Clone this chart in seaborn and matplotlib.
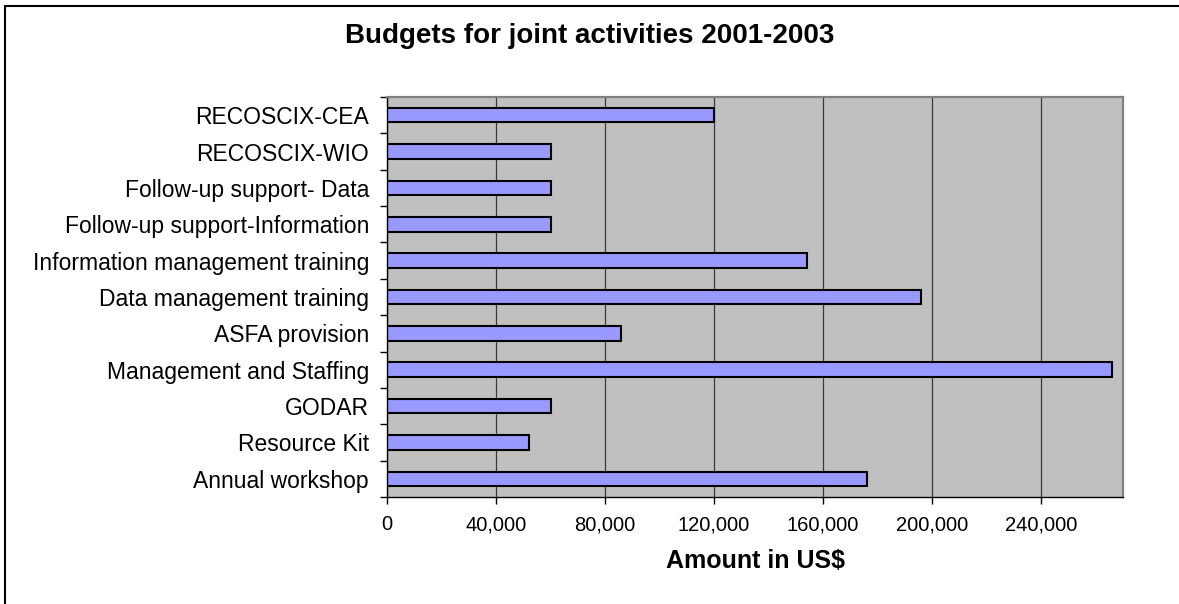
import matplotlib
matplotlib.use("Agg")
import matplotlib.pyplot as plt
import matplotlib.patches as patches
from matplotlib.ticker import FuncFormatter, MultipleLocator, FixedLocator
import pandas as pd
import seaborn as sns

# =========================
# DATA
# =========================
activities = [
    "RECOSCIX-CEA",
    "RECOSCIX-WIO",
    "Follow-up support- Data",
    "Follow-up support-Information",
    "Information management training",
    "Data management training",
    "ASFA provision",
    "Management and Staffing",
    "GODAR",
    "Resource Kit",
    "Annual workshop",
]
amounts = [120000, 60000, 60000, 60000, 154000, 196000, 86000, 266000, 60000, 52000, 176000]

df = pd.DataFrame({"activity": activities, "amount": amounts})

# =========================
# STYLE
# =========================
sns.set_style("white")
plt.rcParams["font.family"] = ["Liberation Sans", "DejaVu Sans"]
plt.rcParams["text.color"] = "black"
plt.rcParams["axes.labelcolor"] = "black"
plt.rcParams["xtick.color"] = "black"
plt.rcParams["ytick.color"] = "black"

W, H = 1179, 604
fig = plt.figure(figsize=(W / 100, H / 100), dpi=100)
ax = fig.add_axes([387 / W, 1 - 497 / H, (1123 - 387) / W, (497 - 97) / H])
ax.set_facecolor("#C0C0C0")

sns.barplot(
    data=df, x="amount", y="activity", orient="h",
    color="#9999FF", edgecolor="black", linewidth=1.5,
    width=0.4, saturation=1, ax=ax,
)

# axes
ax.set_xlim(0, 270000)
ax.set_ylim(len(activities) - 0.5, -0.5)
ax.xaxis.set_major_locator(MultipleLocator(40000))
ax.xaxis.set_major_formatter(FuncFormatter(lambda v, p: f"{int(v):,}"))
ax.grid(axis="x", color="#3a3a3a", linewidth=0.9)
ax.grid(axis="y", visible=False)
ax.set_axisbelow(True)

ax.yaxis.set_minor_locator(FixedLocator([i - 0.5 for i in range(len(activities) + 1)]))
ax.tick_params(axis="y", which="major", length=0, pad=13, labelsize=16.5, labelcolor="black")
ax.tick_params(axis="y", which="minor", left=True, length=5, width=1, color="black")
ax.tick_params(axis="x", which="major", bottom=True, length=5, width=1, color="black",
               pad=8, labelsize=14.5, labelcolor="black")

for side in ["left", "bottom"]:
    ax.spines[side].set_color("black")
    ax.spines[side].set_linewidth(1.0)
for side in ["top", "right"]:
    ax.spines[side].set_color("#808080")
    ax.spines[side].set_linewidth(1.6)

ax.set_ylabel("")
ax.set_xlabel("Amount in US$", fontsize=18, fontweight="bold", color="black")
ax.xaxis.set_label_coords(0.5, -(549 - 497) / 400)

fig.text(590 / W, 1 - 36 / H, "Budgets for joint activities 2001-2003",
         ha="center", va="center", fontsize=20, fontweight="bold", color="black")

# outer chart frame (cropped at right and bottom)
fig.patches.append(patches.Rectangle(
    (5 / W, -0.1), 1.2, 1.1 - 6 / H, transform=fig.transFigure,
    fill=False, edgecolor="black", linewidth=1.5))

fig.savefig("out.png", dpi=100)
